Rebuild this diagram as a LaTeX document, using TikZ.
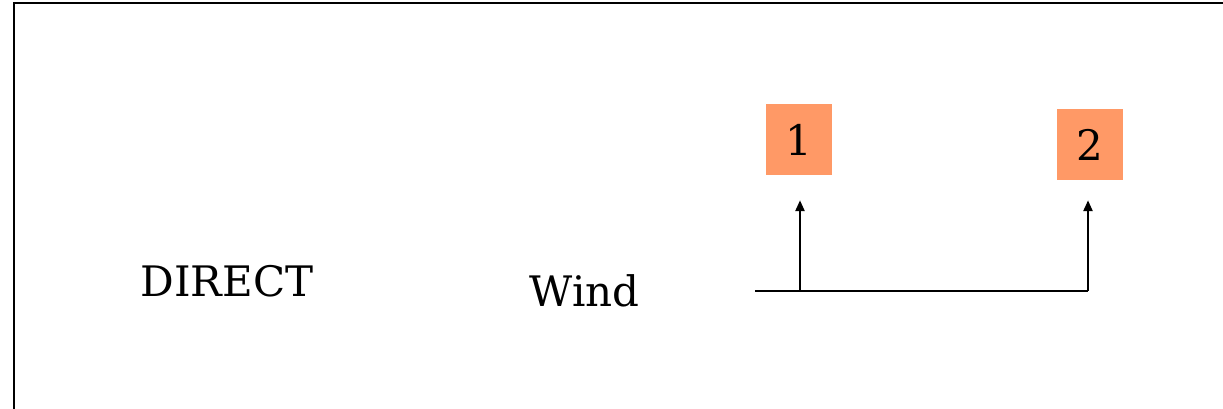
\documentclass[tikz,border=0pt]{standalone}
\usepackage{fontspec}
\setmainfont{DejaVu Serif}
\usetikzlibrary{arrows.meta}
\definecolor{boxfill}{HTML}{FF9966}
\tikzset{
  numbox/.style={fill=boxfill, minimum width=66pt, minimum height=71pt, inner sep=0pt, font=\fontsize{42}{50}\selectfont},
  label/.style={inner sep=0pt, font=\fontsize{42}{50}\selectfont, anchor=base},
  conn/.style={line width=2.4pt, line cap=butt},
  arr/.style={conn, -{Triangle[length=11pt,width=9pt]}}
}
\begin{document}
\begin{tikzpicture}[x=1pt,y=-1pt]
\useasboundingbox (0,0) rectangle (1223,409);
\draw[line width=2.4pt] (14,420) -- (14,3) -- (1240,3);
\node[label] (direct) at (227,296) {DIRECT};
\node[label] (wind) at (584.5,306) {Wind};
\node[numbox] (b1) at (799,139.5) {1};
\node[numbox] (b2) at (1089.5,144.5) {2};
\coordinate (start) at (755,291);
\coordinate (j1) at (800,291);
\coordinate (j2) at (1088,291);
\draw[conn] (start) -- (j2);
\draw[arr, shorten >=25pt] (j1) -- (j1 |- b1.south);
\draw[arr, shorten >=20pt] (j2) -- (j2 |- b2.south);
\end{tikzpicture}
\end{document}
